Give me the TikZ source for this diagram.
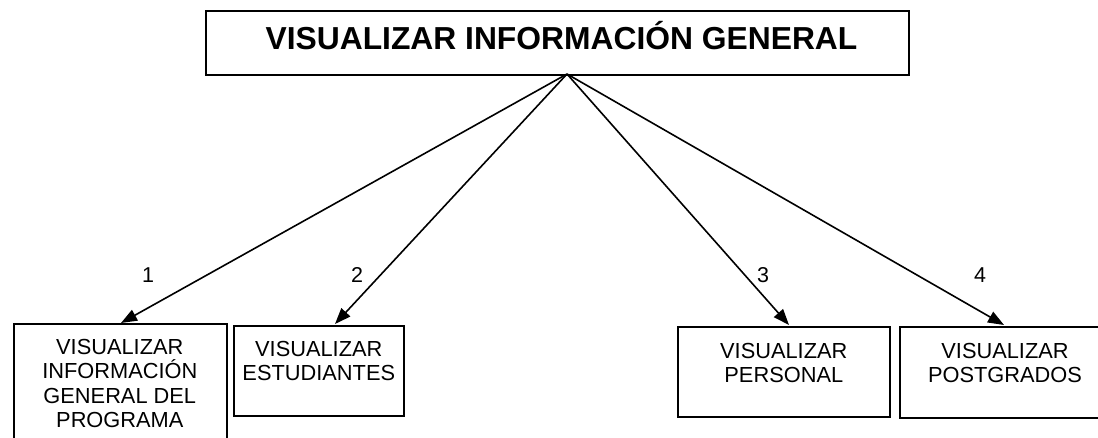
\documentclass[tikz,border=0pt]{standalone}
\usepackage{fontspec}
\setmainfont{Liberation Sans}
\usetikzlibrary{arrows.meta}
\begin{document}
\begin{tikzpicture}[x=1pt,y=1pt,
  box/.style={draw=black, line width=1.6pt, fill=white, inner sep=0pt, anchor=north west},
  boxtext/.style={font=\fontsize{21.8}{24.5}\selectfont, align=center, anchor=north, inner sep=0pt},
  num/.style={font=\fontsize{21.5}{24}\selectfont, inner sep=0pt, anchor=base},
  conn/.style={line width=1.6pt, -{Triangle[length=16pt,width=12pt]}, shorten >=0pt}
]
\useasboundingbox (0,0) rectangle (1098,-438);
% top box
\node[box, minimum width=703pt, minimum height=64pt] (topbox) at (205,-10) {};
\node[font=\fontsize{31.8}{36}\bfseries\selectfont, anchor=base, inner sep=0pt] (title) at (561.5,-50) {VISUALIZAR INFORMACIÓN GENERAL};
\coordinate (hub) at (567,-74);
% child boxes
\node[box, minimum width=213pt, minimum height=125pt] (b1) at (13,-323) {};
\node[box, minimum width=170pt, minimum height=90pt] (b2) at (233,-325) {};
\node[box, minimum width=212pt, minimum height=90pt] (b3) at (677,-326) {};
\node[box, minimum width=210pt, minimum height=91pt] (b4) at (899,-326) {};
% texts
\node[boxtext] (t1) at ([xshift=-0.5pt,yshift=-16pt]b1.north) {VISUALIZAR\\INFORMACIÓN\\GENERAL DEL\\PROGRAMA};
\node[boxtext] (t2) at ([xshift=0pt,yshift=-16pt]b2.north) {VISUALIZAR\\ESTUDIANTES};
\node[boxtext] (t3) at ([xshift=0pt,yshift=-17pt]b3.north) {VISUALIZAR\\PERSONAL};
\node[boxtext] (t4) at (1005,-343) {VISUALIZAR\\POSTGRADOS};
% arrow targets
\coordinate (e1) at (121,-323);
\coordinate (e2) at (335,-324);
\coordinate (e3) at (789,-325);
\coordinate (e4) at (1004,-325);
\draw[conn] (hub) -- (e1);
\draw[conn] (hub) -- (e2);
\draw[conn] (hub) -- (e3);
\draw[conn] (hub) -- (e4);
% labels
\node[num] (n1) at (148,-283) {1};
\node[num] (n2) at (357,-283) {2};
\node[num] (n3) at (763,-283) {3};
\node[num] (n4) at (980,-283) {4};
\end{tikzpicture}
\end{document}
